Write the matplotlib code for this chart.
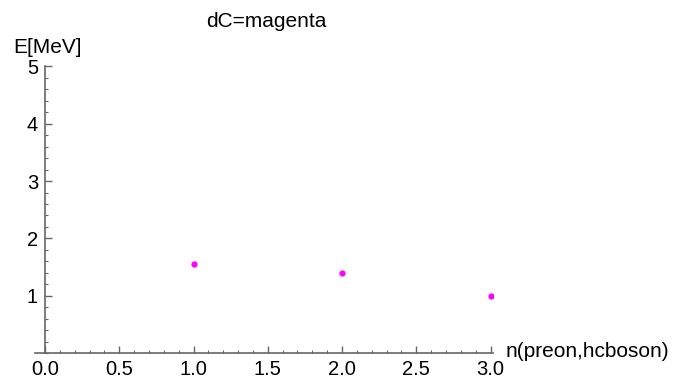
import matplotlib
matplotlib.use("Agg")
import matplotlib.pyplot as plt
from matplotlib.ticker import MultipleLocator

plt.rcParams['font.family'] = ['Liberation Sans', 'DejaVu Sans']

n_vals = [1, 2, 3]
e_vals = [1.55, 1.40, 1.00]
x_ticks = [0.0, 0.5, 1.0, 1.5, 2.0, 2.5, 3.0]
y_ticks = [1, 2, 3, 4, 5]

fig = plt.figure(figsize=(6.79, 3.83), dpi=100)
ax = fig.add_axes([0.051, 0.0783, 0.6758, 0.7481])
ax.plot(n_vals, e_vals, 'o', color='#ff00ff', markersize=4.5, markeredgewidth=0)

ax.set_xlim(-0.07, 3.02)
ax.set_ylim(0, 5)
axis_col = '#666666'
for s in ['top', 'right']:
    ax.spines[s].set_visible(False)
ax.spines['left'].set_position(('data', 0))
ax.spines['left'].set_bounds(0, 5)
ax.spines['left'].set_color(axis_col)
ax.spines['bottom'].set_color(axis_col)
ax.spines['left'].set_linewidth(1.2)
ax.spines['bottom'].set_linewidth(1.2)

ax.set_xticks(x_ticks)
ax.set_xticklabels([f"{v:.1f}" for v in x_ticks])
ax.set_yticks(y_ticks)
ax.set_yticklabels([str(v) for v in y_ticks])
ax.xaxis.set_minor_locator(MultipleLocator(0.1))
ax.yaxis.set_minor_locator(MultipleLocator(0.2))
ax.tick_params(axis='both', which='major', direction='in', length=5, width=1.0,
               color=axis_col, labelsize=14.5, pad=5)
ax.tick_params(axis='both', which='minor', direction='in', length=2.5, width=0.8,
               color=axis_col)

fig.text(0.392, 0.9426, "dC=magenta", ha='center', va='center', fontsize=15)
fig.text(0.019, 0.875, "E[MeV]", ha='left', va='center', fontsize=15)
fig.text(0.745, 0.081, "n(preon,hcboson)", ha='left', va='center', fontsize=15)

fig.savefig("out.png", dpi=100)
